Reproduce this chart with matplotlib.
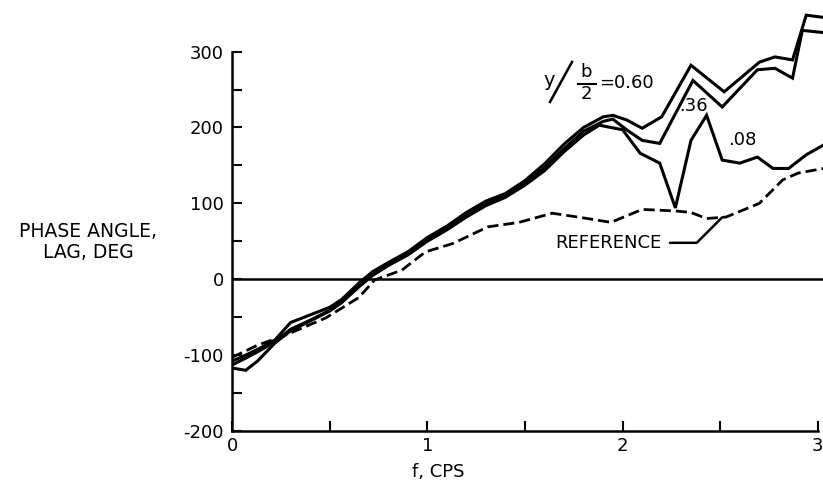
import numpy as np
import matplotlib
matplotlib.use("Agg")
import matplotlib.pyplot as plt
from matplotlib.lines import Line2D

# phase angle (deg) vs frequency (cps)
f_060 = [0.0, 0.07, 0.15, 0.22, 0.3, 0.4, 0.5, 0.56, 0.65, 0.72, 0.8, 0.9, 1.0, 1.1, 1.2, 1.3, 1.4,
         1.5, 1.6, 1.7, 1.8, 1.9, 1.95, 2.02, 2.1, 2.2, 2.35, 2.52, 2.7, 2.78, 2.87, 2.94, 3.03]
phase_060 = [-108, -100, -90, -80, -57, -47, -37, -27, -5, 10, 22, 36, 55, 70, 88, 103, 113,
             130, 152, 178, 200, 214, 216, 210, 199, 214, 282, 247, 286, 293, 289, 348, 345]

f_036 = [0.0, 0.07, 0.15, 0.22, 0.3, 0.4, 0.5, 0.56, 0.65, 0.72, 0.8, 0.9, 1.0, 1.1, 1.2, 1.3, 1.4,
         1.5, 1.6, 1.7, 1.8, 1.9, 1.95, 2.02, 2.1, 2.19, 2.36, 2.51, 2.69, 2.78, 2.87, 2.92, 3.03]
phase_036 = [-113, -104, -93, -82, -66, -54, -41, -31, -9, 6, 19, 33, 52, 67, 84, 99, 110,
             126, 147, 172, 195, 208, 211, 197, 183, 179, 262, 227, 276, 278, 265, 328, 325]

f_008 = [0.0, 0.07, 0.13, 0.22, 0.3, 0.4, 0.5, 0.56, 0.65, 0.72, 0.8, 0.9, 1.0, 1.1, 1.2, 1.3, 1.4,
         1.5, 1.6, 1.7, 1.8, 1.88, 2.0, 2.09, 2.19, 2.27, 2.35, 2.43, 2.51, 2.6, 2.69, 2.77, 2.85,
         2.94, 3.03]
phase_008 = [-117, -120, -108, -84, -68, -55, -42, -31, -10, 5, 18, 32, 50, 65, 82, 97, 108,
             124, 143, 168, 190, 203, 197, 166, 153, 94, 183, 216, 157, 153, 161, 146, 146,
             164, 177]

f_ref = [0.0, 0.13, 0.27, 0.48, 0.65, 0.73, 0.87, 0.99, 1.13, 1.31, 1.47, 1.64, 1.82, 1.94,
         2.1, 2.27, 2.35, 2.43, 2.53, 2.7, 2.82, 2.9, 3.03]
phase_ref = [-103, -87, -74, -51, -24, -1, 12, 36, 47, 69, 75, 87, 80, 75,
             92, 90, 88, 80, 82, 100, 131, 140, 146]

x_major = [0, 1, 2, 3]
x_minor = [0.5, 1.5, 2.5]
y_major = [-200, -100, 0, 100, 200, 300]
y_minor = [-150, -50, 50, 150, 250]

W, H = 823, 495


def px(x, y):
    """pixel position in the scan -> figure fraction"""
    return x / W, 1 - y / H


fig = plt.figure(figsize=(W / 100, H / 100), dpi=100)
ax = fig.add_axes([232 / W, 1 - 431 / H, 1 - 232 / W, 431 / H])
ax.set_xlim(0, 3.026)
ax.set_ylim(-200, 368)

lw = 2.2
ax.plot(f_060, phase_060, color="black", lw=lw, solid_joinstyle="miter")
ax.plot(f_036, phase_036, color="black", lw=lw, solid_joinstyle="miter")
ax.plot(f_008, phase_008, color="black", lw=lw, solid_joinstyle="miter")
ax.plot(f_ref, phase_ref, color="black", lw=2.0, linestyle=(0, (4, 1.8)))
ax.axhline(0, color="black", lw=1.8)

for side in ("top", "right"):
    ax.spines[side].set_visible(False)
ax.spines["left"].set_bounds(-200, 300)
ax.spines["bottom"].set_bounds(0, 3)
for side in ("left", "bottom"):
    ax.spines[side].set_linewidth(1.8)

ax.set_xticks(x_major)
ax.set_xticklabels(["0", "1", "2", "3"])
ax.set_xticks(x_minor, minor=True)
ax.set_yticks(y_major)
ax.set_yticklabels([str(v) for v in y_major])
ax.set_yticks(y_minor, minor=True)
ax.tick_params(which="both", direction="in", length=7, width=1.5, labelsize=13)
ax.tick_params(axis="x", pad=4)
ax.tick_params(axis="y", pad=6)

# labels
fig.text(*px(88, 242), "PHASE ANGLE,\nLAG, DEG", ha="center", va="center",
         fontsize=13.5, linespacing=1.15)
fig.text(*px(438, 472), "f, CPS", ha="center", va="center", fontsize=13)

# REFERENCE callout
x_tip = 2.51
ax.annotate("REFERENCE", xy=(x_tip, np.interp(x_tip, f_ref, phase_ref)),
            xytext=(2.2, 48), ha="right", va="center", fontsize=13,
            arrowprops=dict(arrowstyle="-", lw=1.8, color="black", shrinkA=4, shrinkB=0,
                            connectionstyle="angle,angleA=0,angleB=45,rad=0"))

# curve labels
fig.text(*px(693, 106), ".36", ha="center", va="center", fontsize=13)
fig.text(*px(742, 140), ".08", ha="center", va="center", fontsize=13)
fig.text(*px(549, 80), "y", ha="center", va="center", fontsize=14)
fig.add_artist(Line2D([550 / W, 572 / W], [1 - 102 / H, 1 - 62 / H], color="black", lw=1.8))
fig.text(*px(586, 72), "b", ha="center", va="center", fontsize=13)
fig.add_artist(Line2D([578 / W, 596 / W], [1 - 84 / H, 1 - 84 / H], color="black", lw=1.5))
fig.text(*px(586, 94), "2", ha="center", va="center", fontsize=13)
fig.text(*px(599, 83), "=0.60", ha="left", va="center", fontsize=13)

fig.savefig("out.png", dpi=100)
